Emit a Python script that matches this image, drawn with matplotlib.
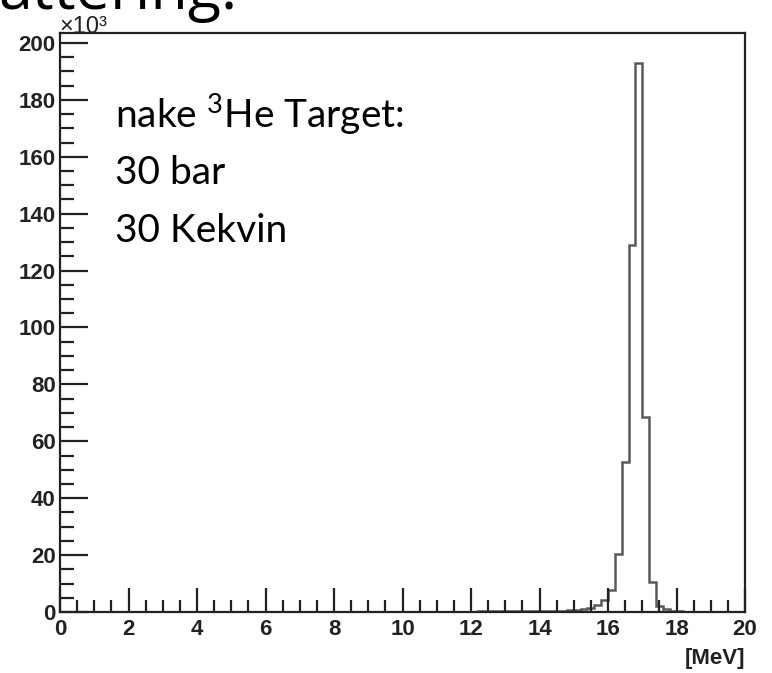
import numpy as np
import matplotlib.pyplot as plt
from matplotlib.ticker import MultipleLocator

plt.rcParams['mathtext.fontset'] = 'custom'
plt.rcParams['mathtext.rm'] = 'Lato'
plt.rcParams['mathtext.it'] = 'Lato:italic'
plt.rcParams['mathtext.bf'] = 'Lato:bold'

# histogram contents (x10^3 counts), 0.2 MeV bins starting at 12.2 MeV
bin_start = 12.2
bin_width = 0.2
counts = [0.3, 0.4, 0.4, 0.4, 0.5, 0.5, 0.5, 0.5, 0.5, 0.5,
          0.5, 0.5, 0.5, 0.6, 0.6, 1.0, 1.4, 2.5, 4.2, 7.7,
          20.4, 52.7, 129.0, 193.0, 68.5, 10.5, 2.0, 1.0, 0.5, 0.3]

edges = bin_start + bin_width * np.arange(len(counts) + 1)

fig = plt.figure(figsize=(7.72, 6.73), dpi=100)
ax = fig.add_axes([60/772, 61/673, 685/772, 579/673])

ax.stairs(counts, edges, color='#5a5a5a', lw=1.8, baseline=0)

ax.set_xlim(0, 20)
ax.set_ylim(0, 203.5)
ax.xaxis.set_major_locator(MultipleLocator(2))
ax.xaxis.set_minor_locator(MultipleLocator(0.5))
ax.yaxis.set_major_locator(MultipleLocator(20))
ax.yaxis.set_minor_locator(MultipleLocator(5))
ax.tick_params(which='both', direction='in', top=False, right=False, width=1.6,
               colors='#222222')
ax.tick_params(axis='x', which='major', length=17, pad=5)
ax.tick_params(axis='x', which='minor', length=9)
ax.tick_params(axis='y', which='major', length=20, pad=3)
ax.tick_params(axis='y', which='minor', length=10)
for lab in ax.get_xticklabels() + ax.get_yticklabels():
    lab.set_family('Liberation Sans')
    lab.set_fontweight('bold')
    lab.set_fontsize(16)
for s in ax.spines.values():
    s.set_linewidth(1.6)
    s.set_color('#222222')

# ROOT style exponent and axis title
fig.text(59/772, 1 - 33/673, '×10³', ha='left', va='baseline',
         family='Liberation Sans', fontsize=17, color='#222222')
fig.text(745/772, 1 - 664/673, '[MeV]', ha='right', va='baseline',
         family='Liberation Sans', fontweight='bold', fontsize=16, color='#222222')

# slide text
fig.text(-2/772, 1 - 9/673, 'attering:', ha='left', va='baseline',
         family='Open Sans', fontsize=44)
for txt, yb in [('nake $^{3}$He Target:', 128), ('30 bar', 184), ('30 Kekvin', 242)]:
    fig.text(115/772, 1 - yb/673, txt, ha='left', va='baseline',
             family='Lato', fontsize=28)

fig.savefig('out.png', dpi=100)
